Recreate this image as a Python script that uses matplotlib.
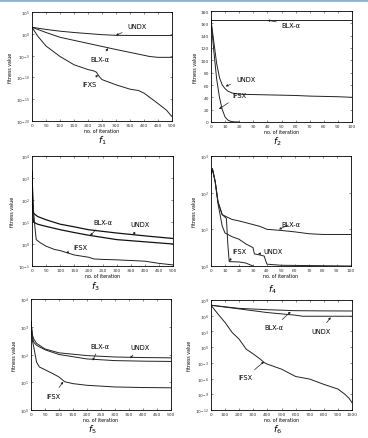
import numpy as np
import matplotlib
matplotlib.use("Agg")
import matplotlib.pyplot as plt

# ---- f1: log10 fitness vs iteration ----
f1_x_undx = [0, 50, 100, 150, 200, 250, 300, 400, 500]
f1_undx = [1.5, 1.0, 0.6, 0.3, 0.05, -0.2, -0.35, -0.4, -0.4]
f1_x_blx = [0, 50, 100, 150, 200, 250, 300, 360, 420, 450, 500]
f1_blx = [1.5, 0.3, -0.8, -1.5, -2.2, -2.9, -3.6, -4.4, -5.2, -5.4, -5.4]
f1_x_ifxs = [0, 20, 50, 100, 150, 200, 220, 230, 240, 250, 300, 350, 380, 400, 450, 480, 500]
f1_ifxs = [1.5, -0.5, -2.8, -5.2, -7.1, -8.2, -8.5, -8.8, -9.8, -10.5, -11.7, -12.7, -13.0, -13.6, -16.0, -17.5, -19.0]

# ---- f2: linear fitness ----
f2_x_blx = [0, 100]
f2_blx = [165, 165]
f2_x_undx = [0, 2, 4, 6, 8, 10, 12, 15, 20, 30, 40, 50, 60, 70, 80, 90, 100]
f2_undx = [165, 130, 95, 72, 60, 54, 50, 47, 45, 44.5, 44, 43.5, 43, 42, 41.5, 41, 40]
f2_x_ifsx = [0, 2, 4, 6, 8, 10, 12, 14, 16, 20]
f2_ifsx = [165, 115, 70, 40, 20, 8, 3, 1, 0.3, 0]

# ---- f3: log10 fitness ----
f3_x_undx = [0, 2, 5, 20, 50, 100, 150, 200, 300, 400, 500]
f3_undx = [3.3, 2.0, 1.4, 1.25, 1.1, 0.9, 0.78, 0.65, 0.5, 0.37, 0.25]
f3_x_blx = [0, 2, 5, 20, 50, 100, 150, 200, 300, 400, 500]
f3_blx = [3.3, 1.8, 1.0, 0.9, 0.8, 0.65, 0.52, 0.4, 0.2, 0.1, 0.0]
f3_x_ifsx = [0, 5, 10, 15, 30, 50, 80, 100, 150, 200, 220, 250, 300, 400, 450, 500]
f3_ifsx = [3.3, 1.6, 0.8, 0.2, 0.05, -0.1, -0.25, -0.3, -0.5, -0.6, -0.68, -0.7, -0.72, -0.78, -0.88, -0.95]

# ---- f4: log10 fitness ----
f4_x_blx = [0, 1, 3, 5, 8, 15, 20, 25, 30, 35, 40, 50, 60, 70, 80, 100]
f4_blx = [2.5, 2.65, 2.3, 1.75, 1.4, 1.27, 1.23, 1.18, 1.13, 1.08, 1.0, 0.97, 0.93, 0.88, 0.86, 0.86]
f4_x_undx = [0, 1, 3, 5, 8, 10, 15, 20, 25, 30, 31, 35, 38, 39, 40, 50, 100]
f4_undx = [2.5, 2.65, 2.3, 1.7, 1.09, 0.9, 0.8, 0.73, 0.6, 0.5, 0.33, 0.3, 0.27, 0.15, 0.05, 0.02, 0.0]
f4_x_ifsx = [0, 1, 3, 5, 8, 11, 12, 13, 20, 25, 28, 30]
f4_ifsx = [2.5, 2.65, 2.3, 1.75, 1.4, 1.3, 0.6, 0.12, 0.11, 0.08, 0.03, 0.0]

# ---- f5: log10 fitness ----
f5_x_undx = [0, 5, 10, 20, 50, 100, 200, 300, 400, 500]
f5_undx = [3.2, 2.7, 2.56, 2.4, 2.2, 2.06, 1.96, 1.91, 1.89, 1.88]
f5_x_blx = [0, 5, 10, 20, 50, 100, 200, 300, 400, 500]
f5_blx = [3.2, 2.6, 2.44, 2.33, 2.17, 2.0, 1.84, 1.78, 1.76, 1.75]
f5_x_ifsx = [0, 5, 10, 20, 30, 50, 80, 100, 120, 150, 200, 300, 400, 500]
f5_ifsx = [3.2, 2.5, 2.26, 1.72, 1.55, 1.45, 1.3, 1.19, 1.02, 0.95, 0.89, 0.83, 0.81, 0.8]

# ---- f6: log10 fitness ----
f6_x_blx = [0, 200, 400, 600, 800, 1000]
f6_blx = [8.0, 7.4, 7.15, 6.96, 6.92, 6.9]
f6_x_undx = [0, 200, 400, 600, 650, 800, 1000]
f6_undx = [8.0, 7.3, 6.6, 6.1, 5.9, 5.9, 5.9]
f6_x_ifsx = [0, 50, 100, 150, 200, 250, 300, 350, 380, 400, 500, 600, 700, 800, 900, 950, 980, 1000]
f6_ifsx = [8.0, 6.3, 4.7, 2.8, 1.5, -0.4, -1.3, -2.3, -3.0, -3.25, -4.2, -5.6, -6.1, -7.1, -8.0, -9.0, -9.8, -10.6]

f1_yticks = [5, 0, -5, -10, -15, -20]
f3_yticks = [4, 3, 2, 1, 0, -1]
f4_yticks = [3, 2, 1, 0]
f5_yticks = [4, 3, 2, 1, 0]
f6_yticks = [9, 6, 3, 0, -3, -6, -9, -12]

W, H = 368, 439
fig = plt.figure(figsize=(W / 100, H / 100), dpi=100)
fig.patch.set_facecolor("white")
fig.add_artist(plt.Line2D([0, 1], [1 - 1 / H, 1 - 1 / H], transform=fig.transFigure,
                          color="#8fb3c9", lw=2))

TICK_FS = 3.2
LBL_FS = 3.4
C = "#222222"


def make_ax(px_left, px_top, px_right, px_bottom):
    ax = fig.add_axes([px_left / W, 1 - px_bottom / H, (px_right - px_left) / W,
                       (px_bottom - px_top) / H])
    ax.tick_params(direction="in", length=1.5, width=0.4, labelsize=TICK_FS, pad=1.5,
                   top=True, right=True, colors="#333333")
    ax.tick_params(which="minor", length=0)
    for s in ax.spines.values():
        s.set_linewidth(0.6)
    ax.set_xlabel("no. of iteration", fontsize=LBL_FS, labelpad=1)
    ax.set_ylabel("fitness value", fontsize=LBL_FS, labelpad=2)
    return ax


def log_ticks(ax, exps):
    ax.set_yscale("log")
    ax.set_ylim(10.0 ** min(exps), 10.0 ** max(exps))
    ax.set_yticks([10.0 ** e for e in exps])
    ax.set_yticklabels([f"$10^{{{e}}}$" for e in exps])
    ax.yaxis.set_minor_locator(matplotlib.ticker.NullLocator())


def label(ax, text, xy, xytext):
    ax.annotate(text, xy=xy, xytext=xytext, fontsize=4.8, ha="center", va="center",
                arrowprops=dict(arrowstyle="-|>", lw=0.5, color=C,
                                mutation_scale=3, shrinkA=2, shrinkB=0))


def p(v):
    return [10.0 ** e for e in v]


# f1
ax = make_ax(32, 13, 172, 122)
ax.plot(f1_x_undx, p(f1_undx), color=C, lw=0.7)
ax.plot(f1_x_blx, p(f1_blx), color=C, lw=0.7)
ax.plot(f1_x_ifxs, p(f1_ifxs), color=C, lw=0.7)
log_ticks(ax, f1_yticks)
ax.set_xlim(0, 500)
ax.set_xticks(range(0, 501, 50))
label(ax, "UNDX", (300, 10 ** -0.35), (375, 10 ** 1.8))
label(ax, "BLX-α", (272, 10 ** -3.3), (243, 10 ** -5.8))
label(ax, "IFXS", (235, 10 ** -9.4), (207, 10 ** -11.5))

# f2
ax = make_ax(211, 12, 352, 123)
ax.plot(f2_x_blx, f2_blx, color=C, lw=0.7)
ax.plot(f2_x_undx, f2_undx, color=C, lw=0.7)
ax.plot(f2_x_ifsx, f2_ifsx, color=C, lw=0.7)
ax.set_xlim(0, 100)
ax.set_ylim(0, 180)
ax.set_xticks(range(0, 101, 10))
ax.set_yticks(range(0, 181, 20))
label(ax, "BLX-α", (40, 165), (57, 158))
label(ax, "UNDX", (10.4, 58), (24.6, 70))
label(ax, "IFSX", (5.7, 21), (20, 43))

# f3
ax = make_ax(32, 157, 173, 267)
ax.plot(f3_x_undx, p(f3_undx), color="#111111", lw=0.9)
ax.plot(f3_x_blx, p(f3_blx), color="#111111", lw=0.9)
ax.plot(f3_x_ifsx, p(f3_ifsx), color=C, lw=0.7)
log_ticks(ax, f3_yticks)
ax.set_xlim(0, 500)
ax.set_xticks(range(0, 501, 50))
label(ax, "UNDX", (359, 10 ** 0.42), (383, 10 ** 0.9))
label(ax, "BLX-α", (206, 10 ** 0.38), (253, 10 ** 0.99))
label(ax, "IFSX", (121, 10 ** -0.41), (170, 10 ** -0.15))

# f4
ax = make_ax(211, 157, 351, 267)
ax.plot(f4_x_blx, p(f4_blx), color=C, lw=0.7)
ax.plot(f4_x_undx, p(f4_undx), color=C, lw=0.7)
ax.plot(f4_x_ifsx, p(f4_ifsx), color=C, lw=0.7)
log_ticks(ax, f4_yticks)
ax.set_xlim(0, 100)
ax.set_xticks(range(0, 101, 10))
label(ax, "BLX-α", (48.6, 10 ** 1.0), (57, 10 ** 1.15))
label(ax, "UNDX", (33.6, 10 ** 0.33), (44, 10 ** 0.4))
label(ax, "IFSX", (12.9, 10 ** 0.14), (20, 10 ** 0.4))

# f5
ax = make_ax(31, 300, 171, 411)
ax.plot(f5_x_undx, p(f5_undx), color=C, lw=0.7)
ax.plot(f5_x_blx, p(f5_blx), color=C, lw=0.7)
ax.plot(f5_x_ifsx, p(f5_ifsx), color=C, lw=0.7)
log_ticks(ax, f5_yticks)
ax.set_xlim(0, 500)
ax.set_xticks(range(0, 501, 50))
label(ax, "BLX-α", (220, 10 ** 1.78), (246, 10 ** 2.32))
label(ax, "UNDX", (354, 10 ** 1.86), (389, 10 ** 2.26))
label(ax, "IFSX", (115, 10 ** 1.02), (80, 10 ** 0.52))

# f6
ax = make_ax(211, 301, 352, 411)
ax.plot(f6_x_blx, p(f6_blx), color=C, lw=0.7)
ax.plot(f6_x_undx, p(f6_undx), color=C, lw=0.7)
ax.plot(f6_x_ifsx, p(f6_ifsx), color=C, lw=0.7)
log_ticks(ax, f6_yticks)
ax.set_xlim(0, 1000)
ax.set_xticks(range(0, 1001, 100))
label(ax, "BLX-α", (565, 10 ** 6.77), (447, 10 ** 3.8))
label(ax, "UNDX", (849, 10 ** 5.7), (778, 10 ** 3.14))
label(ax, "IFSX", (376, 10 ** -2.77), (246, 10 ** -5.75))

# panel captions
for i, (px, py) in enumerate([(102, 141), (277, 142), (95, 287), (272, 290), (92, 430), (277, 430)]):
    fig.text(px / W, 1 - py / H, f"$f_{{{i + 1}}}$", fontsize=6.5, ha="center", va="center",
             family="serif")

fig.savefig("out.png", dpi=100)
